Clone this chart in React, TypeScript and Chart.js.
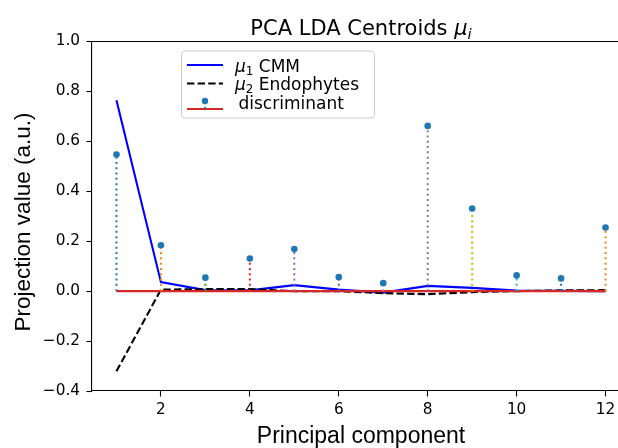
import React, { useEffect, useRef } from 'react';
import { Chart, registerables } from 'chart.js';

Chart.register(...registerables);

const components = [1, 2, 3, 4, 5, 6, 7, 8, 9, 10, 11, 12];
const mu1CMM = [0.765, 0.036, 0.004, 0.003, 0.024, 0.006, -0.006, 0.021, 0.013, 0.002, 0.001, 0.0];
const mu2Endophytes = [-0.321, 0.006, 0.008, 0.008, 0.0, 0.0, -0.008, -0.012, -0.004, 0.0, 0.003, 0.004];
const discriminant = [0.547, 0.184, 0.054, 0.131, 0.169, 0.056, 0.032, 0.662, 0.331, 0.063, 0.051, 0.255];

const xTicks = [2, 4, 6, 8, 10, 12];
const xTickLabels = ['2', '4', '6', '8', '10', '12'];
const yTicks = [-0.4, -0.2, 0.0, 0.2, 0.4, 0.6, 0.8, 1.0];
const yTickLabels = ['\u22120.4', '\u22120.2', '0.0', '0.2', '0.4', '0.6', '0.8', '1.0'];

const stemColors = ['#1f77b4', '#ff7f0e', '#2ca02c', '#d62728', '#9467bd', '#8c564b', '#e377c2', '#7f7f7f', '#bcbd22', '#17becf', '#1f77b4', '#ff7f0e'];

const titleText = 'PCA LDA Centroids ';
const xAxisTitle = 'Principal component';
const yAxisTitle = 'Projection value (a.u.)';
const legendNames = ['CMM', 'Endophytes', 'discriminant'];

const DJ = 'DejaVu Sans';

type Part = { t: string; it?: boolean; sub?: boolean };

function drawRich(ctx: CanvasRenderingContext2D, parts: Part[], x: number, y: number, size: number, measureOnly = false): number {
  let cx = x;
  for (const p of parts) {
    const s = p.sub ? size * 0.7 : size;
    ctx.font = `${p.it ? 'italic ' : ''}${s}px "${DJ}"`;
    const w = ctx.measureText(p.t).width;
    if (!measureOnly) {
      ctx.fillText(p.t, cx, p.sub ? y + size * 0.2 : y);
    }
    cx += w;
  }
  return cx - x;
}

const overlayPlugin = {
  id: 'overlay',
  afterDraw(chart: any) {
    const ctx: CanvasRenderingContext2D = chart.ctx;
    const a = chart.chartArea;
    ctx.save();

    // title
    ctx.fillStyle = '#000';
    ctx.textBaseline = 'alphabetic';
    ctx.textAlign = 'left';
    const tSize = 21;
    const tParts: Part[] = [{ t: titleText }, { t: '\u03bc', it: true }, { t: 'i', it: true, sub: true }];
    const tw = drawRich(ctx, tParts, 0, 0, tSize, true);
    drawRich(ctx, tParts, (a.left + a.right) / 2 - tw / 2, 35, tSize);

    // y axis label
    ctx.save();
    ctx.translate(24, 222);
    ctx.rotate(-Math.PI / 2);
    ctx.font = '22.5px "Liberation Sans"';
    ctx.textAlign = 'center';
    ctx.textBaseline = 'middle';
    ctx.fillText(yAxisTitle, 0, 0);
    ctx.restore();

    // legend frame
    const bx = 181.5, by = 51, bw = 193, bh = 67, r = 3.5;
    ctx.beginPath();
    ctx.moveTo(bx + r, by);
    ctx.lineTo(bx + bw - r, by);
    ctx.arcTo(bx + bw, by, bx + bw, by + r, r);
    ctx.lineTo(bx + bw, by + bh - r);
    ctx.arcTo(bx + bw, by + bh, bx + bw - r, by + bh, r);
    ctx.lineTo(bx + r, by + bh);
    ctx.arcTo(bx, by + bh, bx, by + bh - r, r);
    ctx.lineTo(bx, by + r);
    ctx.arcTo(bx, by, bx + r, by, r);
    ctx.closePath();
    ctx.fillStyle = 'rgba(255,255,255,0.8)';
    ctx.fill();
    ctx.strokeStyle = '#cccccc';
    ctx.lineWidth = 1;
    ctx.stroke();

    const hx0 = 187, hx1 = 223;
    const lSize = 17;
    const textX = 235;
    ctx.setLineDash([]);
    ctx.strokeStyle = '#0000ff';
    ctx.lineWidth = 2.1;
    ctx.beginPath();
    ctx.moveTo(hx0, 65);
    ctx.lineTo(hx1, 65);
    ctx.stroke();
    ctx.strokeStyle = '#000';
    ctx.setLineDash([7.4, 3.2]);
    ctx.beginPath();
    ctx.moveTo(hx0, 83.5);
    ctx.lineTo(hx1, 83.5);
    ctx.stroke();
    ctx.setLineDash([]);
    ctx.strokeStyle = '#d62728';
    ctx.beginPath();
    ctx.moveTo(hx0, 109);
    ctx.lineTo(hx1, 109);
    ctx.stroke();
    ctx.strokeStyle = '#1f77b4';
    ctx.setLineDash([2, 3.3]);
    ctx.lineWidth = 2;
    ctx.beginPath();
    ctx.moveTo(205, 109);
    ctx.lineTo(205, 101);
    ctx.stroke();
    ctx.setLineDash([]);
    ctx.fillStyle = '#1f77b4';
    ctx.beginPath();
    ctx.arc(205, 101, 3.2, 0, Math.PI * 2);
    ctx.fill();

    ctx.fillStyle = '#000';
    drawRich(ctx, [{ t: '\u03bc', it: true }, { t: '1', sub: true }, { t: ' ' + legendNames[0] }], textX, 71.5, lSize);
    drawRich(ctx, [{ t: '\u03bc', it: true }, { t: '2', sub: true }, { t: ' ' + legendNames[1] }], textX, 90, lSize);
    drawRich(ctx, [{ t: legendNames[2] }], 238.5, 108.5, lSize);
    ctx.restore();
  },
};

export default function App() {
  const ref = useRef<HTMLCanvasElement>(null);

  useEffect(() => {
    if (!ref.current) return;
    const pts = (ys: number[]) => components.map((x, i) => ({ x, y: ys[i] }));
    const stemSets = components.map((x, i) => ({
      type: 'line' as const,
      data: [{ x, y: 0 }, { x, y: discriminant[i] }],
      borderColor: stemColors[i],
      borderWidth: 2,
      borderDash: [2, 3.3],
      borderCapStyle: 'butt' as const,
      pointRadius: 0,
      order: 5,
    }));
    const tickFont = { family: DJ, size: 15.3 };
    const chart = new Chart(ref.current, {
      type: 'line',
      data: {
        datasets: [
          { data: pts(mu1CMM), borderColor: '#0000ff', borderWidth: 2.1, pointRadius: 0, tension: 0, order: 10 },
          { data: pts(mu2Endophytes), borderColor: '#000000', borderWidth: 2.1, borderDash: [7.4, 3.2], pointRadius: 0, tension: 0, order: 9 },
          { data: [{ x: components[0], y: 0 }, { x: components[components.length - 1], y: 0 }], borderColor: '#d62728', borderWidth: 2.1, pointRadius: 0, order: 8 },
          ...stemSets,
          { data: pts(discriminant), showLine: false, pointRadius: 3.3, pointBackgroundColor: '#1f77b4', pointBorderWidth: 0, borderColor: '#1f77b4', order: 0 },
        ] as any,
      },
      options: {
        animation: false,
        responsive: false,
        devicePixelRatio: 1,
        layout: { padding: { top: 41.5, right: 10, left: 0, bottom: 0 } },
        plugins: { legend: { display: false }, tooltip: { enabled: false }, title: { display: false } },
        scales: {
          x: {
            type: 'linear', min: 0.45, max: 12.55,
            afterBuildTicks: (s: any) => { s.ticks = xTicks.map((v) => ({ value: v })); },
            afterFit: (s: any) => { s.height = 57; },
            ticks: { autoSkip: false, maxRotation: 0, padding: 4, color: '#000', font: tickFont, callback: (_v: any, i: number) => xTickLabels[i] },
            grid: { drawOnChartArea: false, drawTicks: true, tickLength: 5.5, tickColor: '#000', tickWidth: 1.1 },
            border: { display: true, color: '#000', width: 1.1 },
            title: { display: true, text: xAxisTitle, color: '#000', font: { family: 'Liberation Sans', size: 23, lineHeight: 1 }, padding: { top: 0, bottom: 0 } },
          },
          xTop: {
            type: 'linear', position: 'top', min: 0.45, max: 12.55,
            afterFit: (s: any) => { s.height = 0; },
            ticks: { display: false },
            grid: { display: false, drawTicks: false },
            border: { display: true, color: '#000', width: 1.1 },
          },
          y: {
            type: 'linear', min: -0.4, max: 1.0,
            afterBuildTicks: (s: any) => { s.ticks = yTicks.map((v) => ({ value: v })); },
            afterFit: (s: any) => { s.width = 92; },
            ticks: { autoSkip: false, padding: 6.5, color: '#000', font: tickFont, callback: (_v: any, i: number) => yTickLabels[i] },
            grid: { drawOnChartArea: false, drawTicks: true, tickLength: 5.5, tickColor: '#000', tickWidth: 1.1 },
            border: { display: true, color: '#000', width: 1.1 },
          },
        },
      } as any,
      plugins: [overlayPlugin],
    });
    return () => chart.destroy();
  }, []);

  return (
    <div style={{ position: 'fixed', left: 0, top: 0, width: 618, height: 448, overflow: 'hidden', background: '#fff' }}>
      <canvas ref={ref} width={640} height={448} style={{ display: 'block', width: 640, height: 448 }} />
    </div>
  );
}
